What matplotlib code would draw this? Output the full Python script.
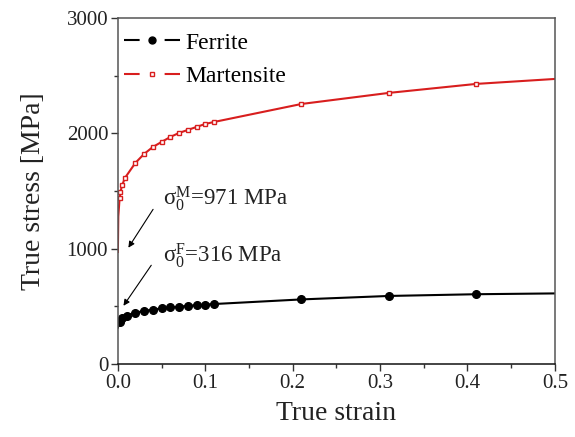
import matplotlib
matplotlib.use("Agg")
import matplotlib.pyplot as plt
from matplotlib.lines import Line2D
from matplotlib.legend_handler import HandlerTuple
from matplotlib.ticker import MultipleLocator

plt.rcParams['font.family'] = 'Liberation Serif'
plt.rcParams['mathtext.fontset'] = 'custom'
plt.rcParams['mathtext.rm'] = 'Liberation Serif'
plt.rcParams['mathtext.it'] = 'Liberation Serif'

# ferrite flow curve
ferrite_strain = [0.0, 0.002, 0.005, 0.01, 0.02, 0.03, 0.04, 0.05, 0.06, 0.07,
                  0.08, 0.09, 0.10, 0.11, 0.21, 0.31, 0.41, 0.5]
ferrite_stress = [316, 360, 395, 420, 445, 460, 472, 482, 490, 497,
                  504, 510, 515, 520, 560, 590, 605, 612]
ferrite_mark = list(range(1, 17))

# martensite flow curve
mart_strain = [0.0, 0.0005, 0.002, 0.003, 0.005, 0.008, 0.02, 0.03, 0.04, 0.05,
               0.06, 0.07, 0.08, 0.09, 0.10, 0.11, 0.21, 0.31, 0.41, 0.5]
mart_stress = [971, 1280, 1440, 1495, 1552, 1612, 1743, 1821, 1881, 1925,
               1968, 2003, 2029, 2055, 2081, 2098, 2254, 2350, 2428, 2471]
mart_mark = list(range(2, 19))

fig = plt.figure(figsize=(5.75, 4.37), dpi=100)
ax = fig.add_axes([0.205, 0.167, 0.76, 0.792])

ax.plot(ferrite_strain, ferrite_stress, color='black', lw=1.5,
        marker='o', ms=5.5, markevery=ferrite_mark)
ax.plot(mart_strain, mart_stress, color='#d81e1e', lw=1.5,
        marker='s', ms=3.5, mfc='white', mec='#d81e1e', mew=1.0, markevery=mart_mark)

ax.set_xlim(0, 0.5)
ax.set_ylim(0, 3000)
ax.xaxis.set_major_locator(MultipleLocator(0.1))
ax.xaxis.set_minor_locator(MultipleLocator(0.05))
ax.yaxis.set_major_locator(MultipleLocator(1000))
ax.yaxis.set_minor_locator(MultipleLocator(500))
ax.xaxis.set_major_formatter(plt.FuncFormatter(lambda v, p: f"{v:.1f}"))
ax.tick_params(which='major', direction='out', length=5, width=1, labelsize=15,
               colors='#333333', labelcolor='#222222', pad=2)
ax.tick_params(which='minor', direction='out', length=3, width=1, colors='#333333')
ax.tick_params(top=False, right=False)
for s in ax.spines.values():
    s.set_color('#555555')
    s.set_linewidth(1.1)
ax.spines['bottom'].set_color('#111111')

ax.set_xlabel('True strain', fontsize=20, color='#222222', labelpad=6)
ax.set_ylabel('True stress [MPa]', fontsize=20, color='#222222', labelpad=15)

ax.text(0.0515, 1378, r'σ$_0^{\mathrm{M}}$=971 MPa', fontsize=16.5, color='#222222', va='baseline')
ax.text(0.0515, 884, r'σ$_0^{\mathrm{F}}$=316 MPa', fontsize=16.5, color='#222222', va='baseline')
ax.annotate('', xy=(0.0103, 988), xytext=(0.042, 1361),
            arrowprops=dict(arrowstyle='-|>', color='black', lw=0.8, mutation_scale=9))
ax.annotate('', xy=(0.0046, 485), xytext=(0.040, 876),
            arrowprops=dict(arrowstyle='-|>', color='black', lw=0.8, mutation_scale=9))

# legend: line - marker - line like Origin
dash = (0, (7.5, 12, 7.5, 12))
fer_line = Line2D([], [], color='black', lw=1.5, linestyle=dash)
fer_mk = Line2D([], [], color='black', ls='none', marker='o', ms=5)
mar_line = Line2D([], [], color='#d81e1e', lw=1.5, linestyle=dash)
mar_mk = Line2D([], [], color='#d81e1e', ls='none', marker='s', ms=3.5, mfc='white', mew=1.0)
ax.legend([(fer_line, fer_mk), (mar_line, mar_mk)], ['Ferrite', 'Martensite'],
          handler_map={tuple: HandlerTuple(ndivide=1)},
          loc='upper left', frameon=False, fontsize=17, handlelength=2.4,
          handletextpad=0.2, borderaxespad=0.0, borderpad=0.6, labelspacing=0.5,
          bbox_to_anchor=(-0.019, 1.0))

fig.savefig('out.png', dpi=100)
